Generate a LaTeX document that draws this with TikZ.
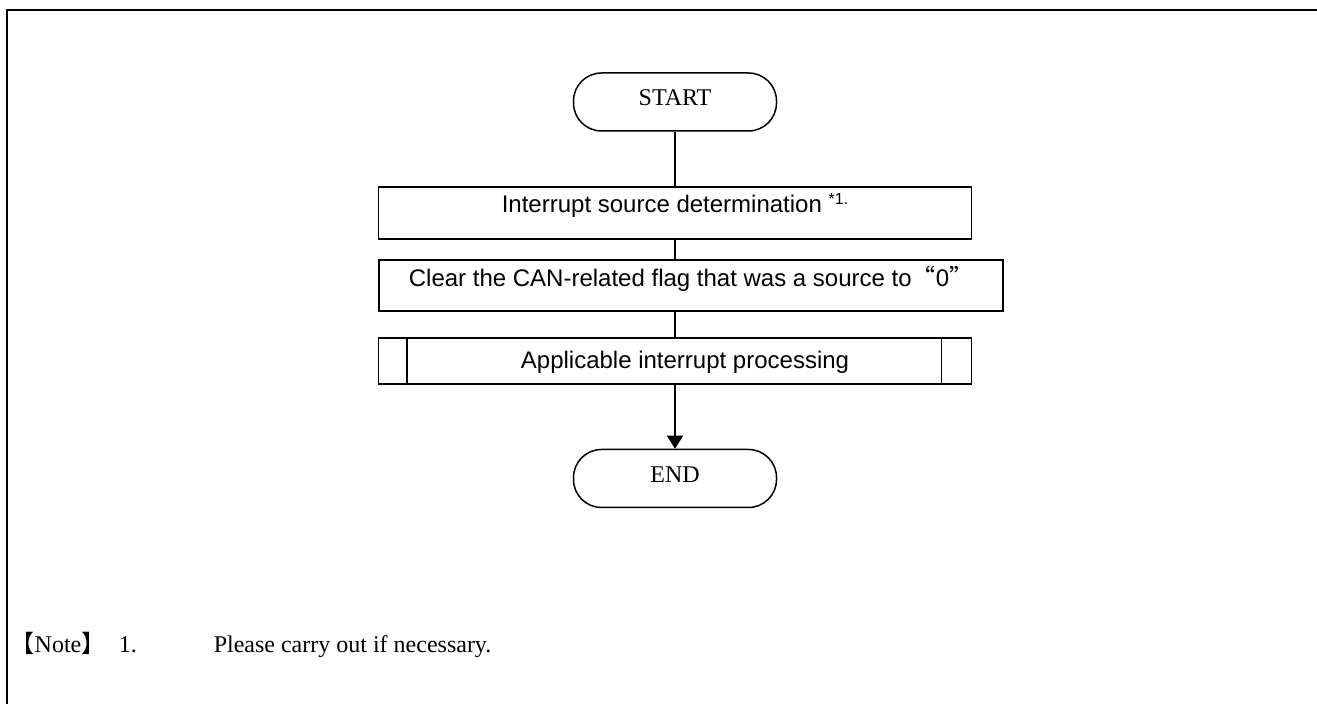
\documentclass[tikz,border=0pt]{standalone}
\usepackage{fontspec}
\setmainfont{Liberation Serif}
\newfontfamily\arialfont{Liberation Sans}
\newfontfamily\cjkfont{Noto Sans CJK SC}
\usetikzlibrary{arrows.meta}

\begin{document}
\begin{tikzpicture}[x=0.5pt, y=-0.5pt, line width=0.75pt, font=\fontsize{12}{14}\selectfont,
  terminal/.style={draw, rectangle, rounded corners=14pt, inner sep=0pt,
    minimum width=101.5pt, minimum height=29pt, text height=8pt, text depth=4pt},
  procbox/.style={draw, rectangle, inner sep=0pt, minimum width=296.5pt,
    minimum height=26pt, text height=9pt, text depth=9pt,
    font=\fontsize{12}{14}\selectfont\arialfont},
  notetext/.style={anchor=base west, inner sep=0pt}]
\useasboundingbox (0,0) rectangle (1317,704);
\draw[line width=1pt] (7,704) -- (7,10) -- (1317,10);
\node[terminal] (P_start) at (675,102) {START};
\node[procbox] (P_det) at (675,213) {Interrupt source determination \raisebox{4.3pt}{\fontsize{8}{8}\selectfont *1.}};
\draw (P_start) -- (P_det);
\node[procbox, minimum width=312pt, minimum height=25.5pt, text height=8.5pt, text depth=7pt] (P_clear) at (691,285.5)
  {Clear the CAN-related flag that was a source to{\cjkfont “}0{\cjkfont ”}};
\draw (P_det) -- (P_det |- P_clear.north);
\node[procbox, minimum height=23pt, text height=9pt, text depth=1pt] (P_proc) at (675,361) {\hspace{10pt}Applicable interrupt processing};
\draw ([xshift=14.5pt]P_proc.north west) -- ([xshift=14.5pt]P_proc.south west);
\draw ([xshift=-15.5pt]P_proc.north east) -- ([xshift=-15.5pt]P_proc.south east);
\draw (P_clear.south -| P_proc) -- (P_proc);
\node[terminal] (P_end) at (675,478.5) {END};
\draw[-{Triangle[width=8pt,length=6.5pt]}] (P_proc) -- (P_end);
\node[notetext] (P_note) at (10,653) {{\cjkfont 【}Note{\cjkfont 】}};
\node[notetext] (P_num) at (118,653) {1.};
\node[notetext] (P_msg) at (213,653) {Please carry out if necessary.};
\end{tikzpicture}
\end{document}
